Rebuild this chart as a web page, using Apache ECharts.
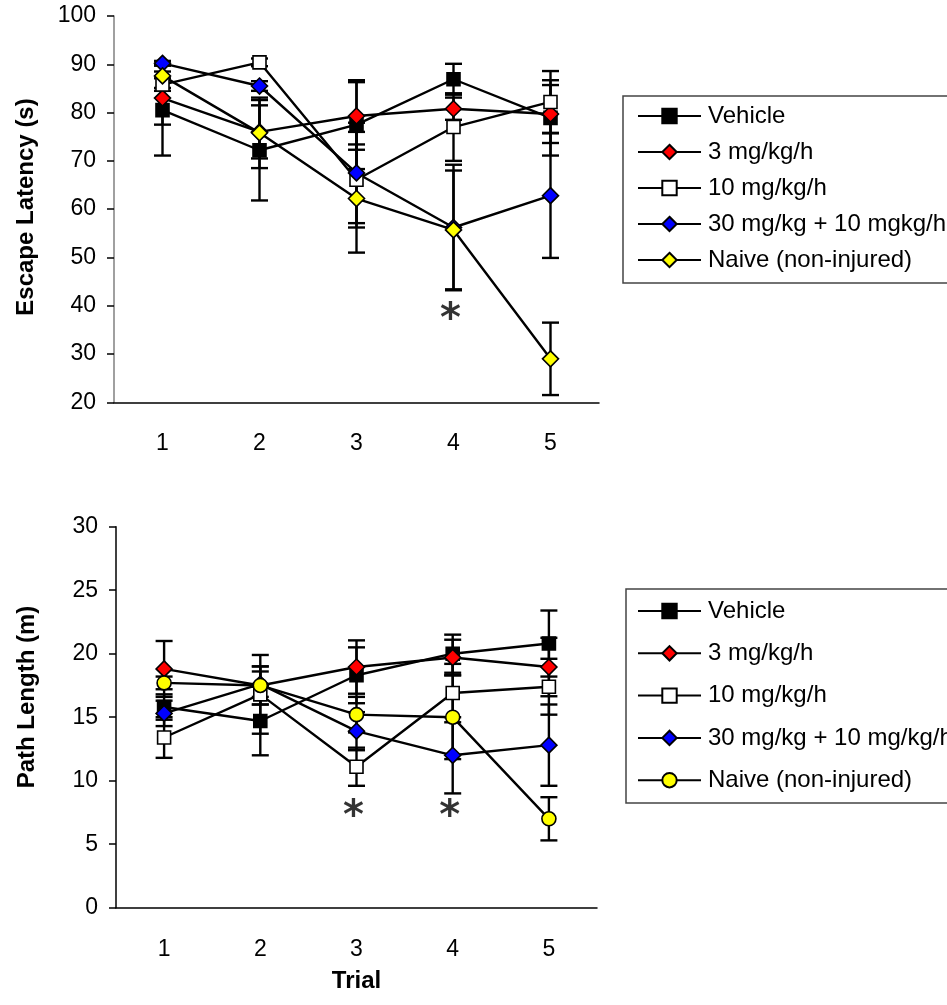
<!DOCTYPE html>
<html>
<head>
<meta charset="utf-8">
<script src="https://cdn.jsdelivr.net/npm/echarts@6/dist/echarts.min.js"></script>
<style>
  html, body { margin: 0; padding: 0; background: #fff; }
  #latency { position: absolute; left: 0; top: 0; width: 947px; height: 500px; }
  #path { position: absolute; left: 0; top: 500px; width: 947px; height: 505px; }
</style>
</head>
<body>
<div id="latency"></div>
<div id="path"></div>
<script>
// Trials (x axis)
const trials = ['1', '2', '3', '4', '5'];

// Escape latency (s): mean and error per trial
const latVehicle = [80.5, 72.2, 77.5, 86.9, 78.9];
const latVehicleErr = [9.4, 10.4, 9.2, 3.2, 7.8];
const lat3 = [83.0, 76.0, 79.3, 80.8, 79.7];
const lat3Err = [5.5, 5.5, 7.0, 2.3, 6.0];
const lat10 = [85.8, 90.4, 66.1, 77.0, 82.2];
const lat10Err = [1.3, 0.8, 9.9, 7.0, 6.4];
const lat30 = [90.2, 85.5, 67.5, 56.2, 62.8];
const lat30Err = [0.5, 1.0, 10.4, 13.0, 12.9];
const latNaive = [87.6, 75.8, 62.2, 55.7, 29.0];
const latNaiveErr = [2.5, 7.3, 11.2, 12.3, 7.5];
const latStars = [[3, 38.5]];

// Path length (m): mean and error per trial
const pathVehicle = [15.8, 14.7, 18.3, 20.0, 20.8];
const pathVehicleErr = [1.0, 2.7, 2.2, 1.5, 2.6];
const path3 = [18.8, 17.5, 18.95, 19.7, 18.95];
const path3Err = [2.2, 1.5, 2.1, 1.4, 2.3];
const path10 = [13.4, 16.8, 11.1, 16.9, 17.4];
const path10Err = [1.6, 3.1, 1.5, 2.3, 2.2];
const path30 = [15.3, 17.6, 13.9, 12.0, 12.8];
const path30Err = [1.0, 1.0, 1.5, 3.0, 3.2];
const pathNaive = [17.7, 17.5, 15.2, 15.0, 7.0];
const pathNaiveErr = [0.5, 1.5, 1.4, 3.3, 1.7];
const pathStars = [[2, 7.7], [3, 7.7]];

const latNames = ['Vehicle', '3 mg/kg/h', '10 mg/kg/h', '30 mg/kg + 10 mgkg/h', 'Naive (non-injured)'];
const pathNames = ['Vehicle', '3 mg/kg/h', '10 mg/kg/h', '30 mg/kg + 10 mg/kg/h', 'Naive (non-injured)'];

const FONT = 'Liberation Sans, Arial, sans-serif';

function lineSeries(name, values, symbol, size, fill) {
  return {
    type: 'line', name: name, data: values,
    symbol: symbol, symbolSize: size,
    lineStyle: { color: '#000', width: 2.4 },
    itemStyle: { color: fill, borderColor: '#000', borderWidth: 1.6 },
    emphasis: { disabled: true },
    z: 3, animation: false
  };
}

function errorSeries(values, errs) {
  return {
    type: 'custom',
    data: values.map((v, i) => [i, v - errs[i], v + errs[i]]),
    encode: { x: 0, y: [1, 2] },
    renderItem: function (params, api) {
      const i = api.value(0);
      const lo = api.coord([i, api.value(1)]);
      const hi = api.coord([i, api.value(2)]);
      const w = 8.5;
      const st = { stroke: '#000', lineWidth: 2.4 };
      return {
        type: 'group',
        children: [
          { type: 'line', shape: { x1: lo[0], y1: lo[1], x2: hi[0], y2: hi[1] }, style: st },
          { type: 'line', shape: { x1: lo[0] - w, y1: lo[1], x2: lo[0] + w, y2: lo[1] }, style: st },
          { type: 'line', shape: { x1: hi[0] - w, y1: hi[1], x2: hi[0] + w, y2: hi[1] }, style: st }
        ]
      };
    },
    silent: true, z: 2, animation: false
  };
}

function starSeries(points) {
  return {
    type: 'scatter', data: points, symbolSize: 0, silent: true, z: 4,
    label: {
      show: true, position: 'inside', formatter: '*', offset: [-3, 8],
      fontSize: 40, fontWeight: 'bold', color: '#000', fontFamily: 'DejaVu Sans',
      textBorderWidth: 0
    },
    animation: false
  };
}

function axisX(nameText, nameGap) {
  return {
    type: 'category', data: trials, boundaryGap: true,
    axisLine: { lineStyle: { color: '#000', width: 1.5 } },
    axisTick: { length: 7, lineStyle: { color: '#000', width: 1.5 } },
    axisLabel: { color: '#000', fontSize: 23, margin: 30, fontFamily: FONT },
    name: nameText, nameLocation: 'middle', nameGap: nameGap,
    nameTextStyle: { color: '#000', fontSize: 24, fontWeight: 'bold', fontFamily: FONT }
  };
}

function axisY(min, max, interval, axisColor) {
  return {
    type: 'value', min: min, max: max, interval: interval,
    splitLine: { show: false },
    axisLine: { show: true, lineStyle: { color: axisColor, width: 1.5 } },
    axisTick: { show: true, length: 7, lineStyle: { color: '#000', width: 1.5 } },
    axisLabel: { color: '#000', fontSize: 23, margin: 18, fontFamily: FONT }
  };
}

function yTitle(text, x, y) {
  return {
    type: 'text', x: x, y: y, rotation: Math.PI / 2, silent: true,
    style: {
      text: text, align: 'center', verticalAlign: 'middle',
      fill: '#000', fontSize: 24, fontWeight: 'bold', fontFamily: FONT
    }
  };
}

function legendOpt(names, top, gap) {
  return {
    orient: 'vertical', left: 637, top: top, padding: 0,
    itemWidth: 63, itemHeight: 18, itemGap: gap, selectedMode: false,
    textStyle: { color: '#000', fontSize: 24, lineHeight: 26, fontFamily: FONT, padding: [0, 0, 0, 2] },
    data: names
  };
}

// Escape latency chart
const latChart = echarts.init(document.getElementById('latency'), null, { renderer: 'canvas' });
latChart.setOption({
  backgroundColor: '#fff',
  animation: false,
  grid: { left: 114, top: 16, width: 485, height: 386.3 },
  xAxis: axisX('', 0),
  yAxis: axisY(20, 100, 10, '#808080'),
  legend: legendOpt(latNames, 103, 10),
  graphic: [
    yTitle('Escape Latency (s)', 26, 207),
    {
      type: 'rect', shape: { x: 623, y: 96, width: 400, height: 187 },
      style: { fill: 'none', stroke: '#444', lineWidth: 1.5 }, silent: true
    }
  ],
  series: [
    errorSeries(latVehicle, latVehicleErr),
    errorSeries(lat3, lat3Err),
    errorSeries(lat10, lat10Err),
    errorSeries(lat30, lat30Err),
    errorSeries(latNaive, latNaiveErr),
    lineSeries(latNames[0], latVehicle, 'rect', 13, '#000000'),
    lineSeries(latNames[1], lat3, 'diamond', 16, '#FF0000'),
    lineSeries(latNames[2], lat10, 'rect', 13, '#FFFFFF'),
    lineSeries(latNames[3], lat30, 'diamond', 16, '#0000FF'),
    lineSeries(latNames[4], latNaive, 'diamond', 16, '#FFFF00'),
    starSeries(latStars)
  ]
});

// Path length chart
const pathChart = echarts.init(document.getElementById('path'), null, { renderer: 'canvas' });
pathChart.setOption({
  backgroundColor: '#fff',
  animation: false,
  grid: { left: 116, top: 26.7, width: 481, height: 381 },
  xAxis: axisX('Trial', 62),
  yAxis: axisY(0, 30, 5, '#000'),
  legend: legendOpt(pathNames, 98, 16.3),
  graphic: [
    yTitle('Path Length (m)', 27, 197),
    {
      type: 'rect', shape: { x: 626, y: 89, width: 400, height: 214 },
      style: { fill: 'none', stroke: '#444', lineWidth: 1.5 }, silent: true
    }
  ],
  series: [
    errorSeries(pathVehicle, pathVehicleErr),
    errorSeries(path3, path3Err),
    errorSeries(path10, path10Err),
    errorSeries(path30, path30Err),
    errorSeries(pathNaive, pathNaiveErr),
    lineSeries(pathNames[0], pathVehicle, 'rect', 13, '#000000'),
    lineSeries(pathNames[1], path3, 'diamond', 16, '#FF0000'),
    lineSeries(pathNames[2], path10, 'rect', 13, '#FFFFFF'),
    lineSeries(pathNames[3], path30, 'diamond', 16, '#0000FF'),
    lineSeries(pathNames[4], pathNaive, 'circle', 14, '#FFFF00'),
    starSeries(pathStars)
  ]
});
</script>
</body>
</html>
